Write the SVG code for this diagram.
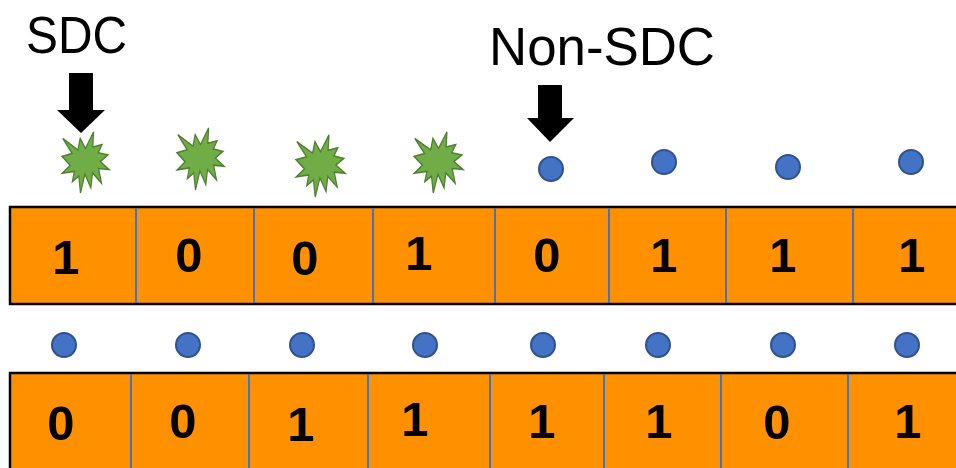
<svg xmlns="http://www.w3.org/2000/svg" width="956" height="468" viewBox="0 0 956 468">
  <style>
    .label { font-family: "Liberation Sans", Arial, sans-serif; fill: #000; }
    .bit { font-family: "Liberation Sans", Arial, sans-serif; font-weight: bold; font-size: 49px; fill: #000; text-anchor: middle; }
    .bar { fill: #FF9100; stroke: #000; stroke-width: 2.5; }
    .div { stroke: #4472C4; stroke-width: 2; }
    .dot { fill: #4472C4; stroke: #2F528F; stroke-width: 2; }
    .burst { fill: #70AD47; stroke: #507E32; stroke-width: 2.6; stroke-linejoin: miter; vector-effect: non-scaling-stroke; }
    .arrow { fill: #000; }
  </style>
  <defs>
    <!-- irregular explosion outline in a 100x100 box -->
    <path id="burst" d="M50,26.85 L67.23,0 L65.53,24.65 L85.09,20.63 L77.32,33.87 L97.67,37.67 L81.51,48.5 L100,61.53 L77.95,59.92 L84,83.77 L64.91,66.93 L61.33,91.38 L48.76,69.14 L39.28,100 L35.72,72.35 L22.05,81.56 L26.24,64.52 L0.63,67.53 L17.23,54.51 L0,39.88 L21.42,35.26 L1.71,10.63 L33.85,29.26 L38.67,10.63 Z"/>
  </defs>

  <!-- labels with pointer arrows -->
  <g id="sdc-label">
    <text class="label" x="26" y="53" font-size="52" textLength="101" lengthAdjust="spacingAndGlyphs">SDC</text>
    <polygon class="arrow" points="69,73 93,73 93,110 105,110 81,133 57,110 69,110"/>
  </g>
  <g id="non-sdc-label">
    <text class="label" x="489" y="65" font-size="54" textLength="226" lengthAdjust="spacingAndGlyphs">Non-SDC</text>
    <polygon class="arrow" points="538,85 562,85 562,118 574,118 550,142 527,118 538,118"/>
  </g>

  <!-- faults above the upper word -->
  <g id="faults-top">
    <use href="#burst" class="burst" transform="translate(62,132) scale(0.47,0.61)"/>
    <use href="#burst" class="burst" transform="translate(177,128) scale(0.47,0.62)"/>
    <use href="#burst" class="burst" transform="translate(296,135) scale(0.49,0.62)"/>
    <use href="#burst" class="burst" transform="translate(414,132) scale(0.49,0.61)"/>
    <circle class="dot" cx="551" cy="169" r="12"/>
    <circle class="dot" cx="664" cy="162" r="12"/>
    <circle class="dot" cx="788" cy="167" r="12"/>
    <circle class="dot" cx="911" cy="162" r="12"/>
  </g>

  <!-- upper word -->
  <g id="word-top">
    <rect class="bar" x="10" y="207" width="960" height="97"/>
    <line class="div" x1="136" y1="208" x2="136" y2="303"/>
    <line class="div" x1="254" y1="208" x2="254" y2="303"/>
    <line class="div" x1="373" y1="208" x2="373" y2="303"/>
    <line class="div" x1="495" y1="208" x2="495" y2="303"/>
    <line class="div" x1="609" y1="208" x2="609" y2="303"/>
    <line class="div" x1="726" y1="208" x2="726" y2="303"/>
    <line class="div" x1="853" y1="208" x2="853" y2="303"/>
    <text class="bit" x="66" y="274">1</text>
    <text class="bit" x="189" y="272">0</text>
    <text class="bit" x="305" y="275">0</text>
    <text class="bit" x="419" y="270">1</text>
    <text class="bit" x="547" y="272">0</text>
    <text class="bit" x="664" y="272">1</text>
    <text class="bit" x="783" y="272">1</text>
    <text class="bit" x="912" y="272">1</text>
  </g>

  <!-- faults above the lower word -->
  <g id="faults-bottom">
    <circle class="dot" cx="64" cy="345" r="12"/>
    <circle class="dot" cx="188" cy="345" r="12"/>
    <circle class="dot" cx="302" cy="345" r="12"/>
    <circle class="dot" cx="425" cy="345" r="12"/>
    <circle class="dot" cx="543" cy="345" r="12"/>
    <circle class="dot" cx="658" cy="345" r="12"/>
    <circle class="dot" cx="783" cy="345" r="12"/>
    <circle class="dot" cx="907" cy="345" r="12"/>
  </g>

  <!-- lower word -->
  <g id="word-bottom">
    <rect class="bar" x="10" y="373" width="960" height="110"/>
    <line class="div" x1="131" y1="374" x2="131" y2="468"/>
    <line class="div" x1="249" y1="374" x2="249" y2="468"/>
    <line class="div" x1="368" y1="374" x2="368" y2="468"/>
    <line class="div" x1="490" y1="374" x2="490" y2="468"/>
    <line class="div" x1="604" y1="374" x2="604" y2="468"/>
    <line class="div" x1="721" y1="374" x2="721" y2="468"/>
    <line class="div" x1="848" y1="374" x2="848" y2="468"/>
    <text class="bit" x="61" y="440">0</text>
    <text class="bit" x="183" y="438">0</text>
    <text class="bit" x="301" y="441">1</text>
    <text class="bit" x="415" y="436">1</text>
    <text class="bit" x="542" y="438">1</text>
    <text class="bit" x="659" y="438">1</text>
    <text class="bit" x="777" y="439">0</text>
    <text class="bit" x="908" y="438">1</text>
  </g>
</svg>
